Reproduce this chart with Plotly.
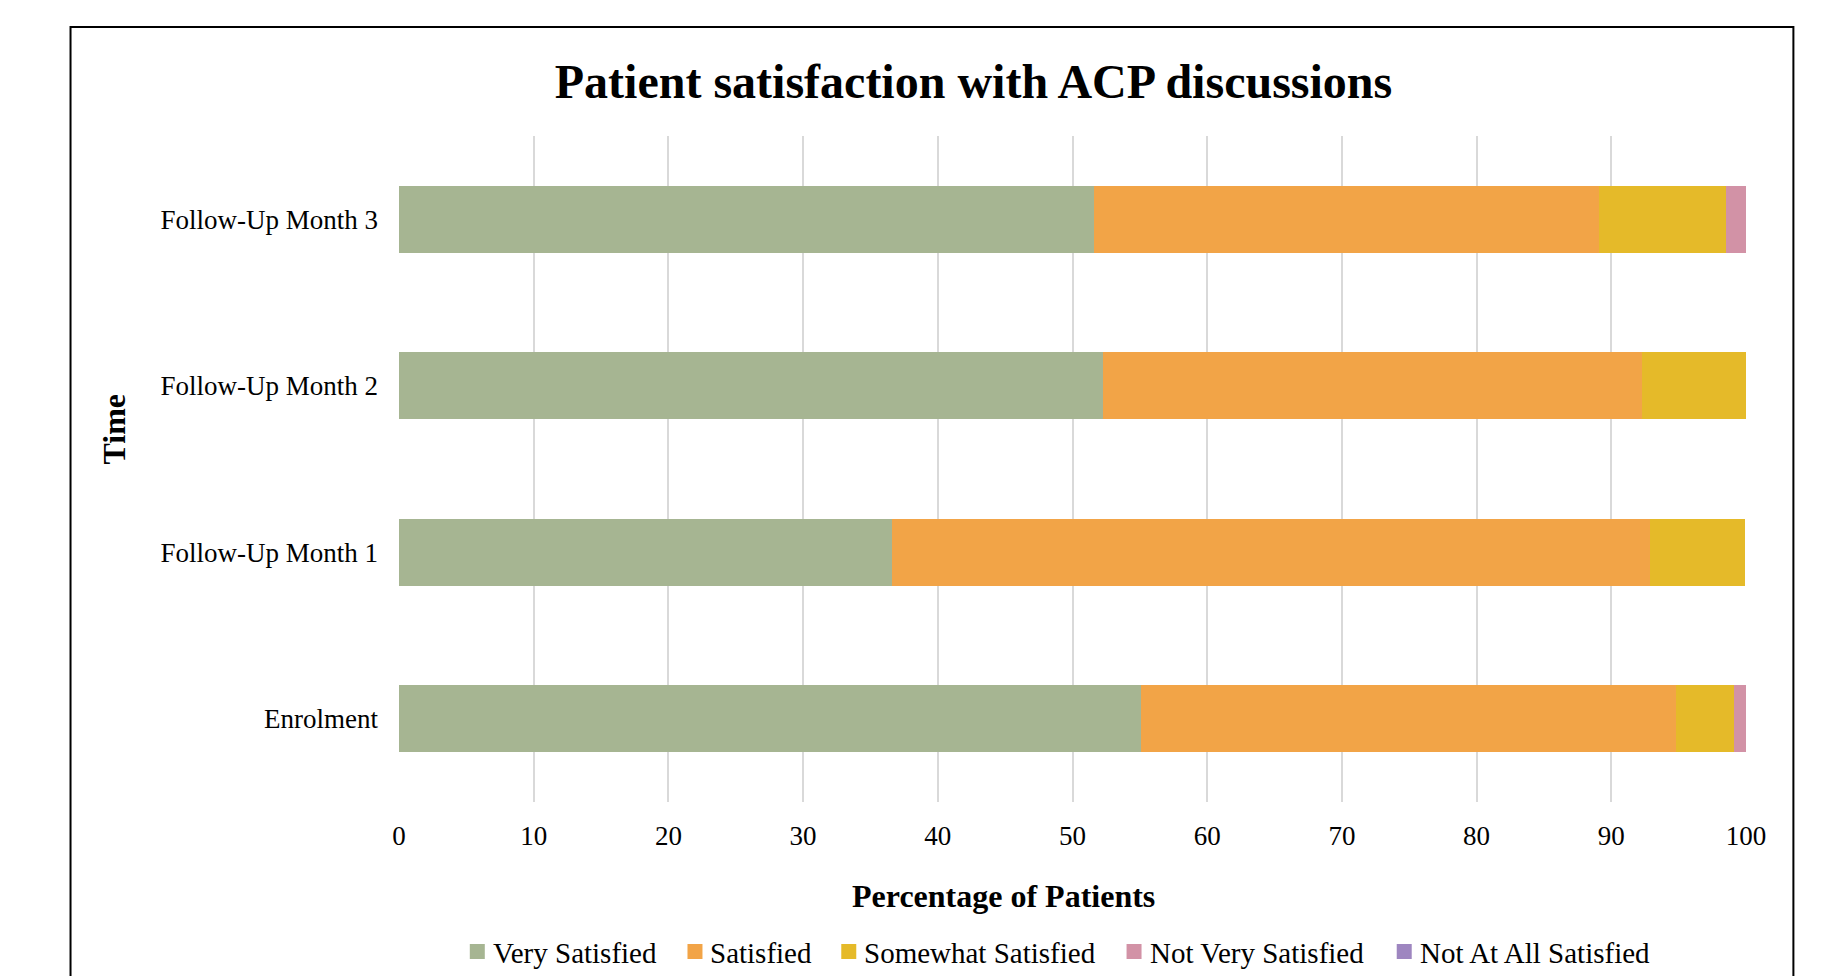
"""Stacked horizontal bars: patient satisfaction with ACP discussions."""

import plotly.graph_objects as go

# categories, bottom to top
time_points = ["Enrolment", "Follow-Up Month 1", "Follow-Up Month 2", "Follow-Up Month 3"]

very_satisfied = [55.1, 36.6, 52.3, 51.6]
satisfied = [39.7, 56.3, 40.0, 37.5]
somewhat_satisfied = [4.3, 7.0, 7.7, 9.4]
not_very_satisfied = [0.9, 0.0, 0.0, 1.5]
not_at_all_satisfied = [0.0, 0.0, 0.0, 0.0]

series_names = ["Very Satisfied", "Satisfied", "Somewhat Satisfied",
                "Not Very Satisfied", "Not At All Satisfied"]
series_values = [very_satisfied, satisfied, somewhat_satisfied,
                 not_very_satisfied, not_at_all_satisfied]
series_colors = ["#A6B592", "#F2A447", "#E5BA29", "#D292A6", "#9E86C0"]

x_ticks = list(range(0, 101, 10))

SERIF = "Liberation Serif, Times New Roman, serif"
PAGE_W, PAGE_H = 1826, 976
OFF = 8  # body margin of the html page
L, R, T, B = 398.5, 1745.6, 136, 802  # plot area, page px

# legend key left edges (page px), key size and row centre
LEGEND_KEY_X = [469.3, 687.0, 840.8, 1126.1, 1396.3]
LEGEND_Y = 951.5
KEY = 15
KEY_TEXT_GAP = 21


def px_x(x):
    return (x - L) / (R - L)


def px_y(y):
    return (B - y) / (B - T)


fig = go.Figure()
for name, vals, col in zip(series_names, series_values, series_colors):
    fig.add_trace(go.Bar(
        y=time_points,
        x=vals,
        name=name,
        orientation="h",
        marker=dict(color=col, line=dict(width=0)),
        showlegend=False,
    ))

fig.update_layout(
    width=PAGE_W - OFF,
    height=PAGE_H - OFF,
    barmode="stack",
    bargap=0.6,
    plot_bgcolor="white",
    paper_bgcolor="white",
    margin=dict(l=L - OFF, r=PAGE_W - R, t=T - OFF, b=PAGE_H - B, autoexpand=False),
    font=dict(family=SERIF, size=27, color="black"),
    title=dict(
        text="Patient satisfaction with ACP discussions",
        font=dict(family=SERIF, size=48, weight="bold", color="black"),
        x=(973.5 - OFF) / (PAGE_W - OFF), xanchor="center", xref="container",
        y=1 - (81.5 - OFF) / (PAGE_H - OFF), yanchor="middle", yref="container",
    ),
    xaxis=dict(
        range=[0, 100],
        tickvals=x_ticks,
        showgrid=True,
        gridcolor="#d9d9d9",
        gridwidth=1.5,
        zeroline=False,
        showline=False,
        ticks="",
        ticklabelstandoff=15,
        tickfont=dict(size=27),
    ),
    yaxis=dict(
        showgrid=False,
        showline=False,
        ticks="",
        ticklabelstandoff=20,
        tickfont=dict(size=27),
    ),
    showlegend=False,
)

# legend drawn as square keys + labels, as in the original
for name, col, kx in zip(series_names, series_colors, LEGEND_KEY_X):
    fig.add_shape(
        type="rect", xref="paper", yref="paper",
        x0=px_x(kx), x1=px_x(kx + KEY),
        y0=px_y(LEGEND_Y + KEY / 2), y1=px_y(LEGEND_Y - KEY / 2),
        line=dict(width=0), fillcolor=col,
    )
    fig.add_annotation(
        text=name, xref="paper", yref="paper",
        x=px_x(kx + KEY_TEXT_GAP), y=px_y(LEGEND_Y + 1),
        xanchor="left", yanchor="middle", showarrow=False,
        font=dict(family=SERIF, size=29),
    )

fig.add_annotation(
    text="Percentage of Patients", xref="paper", yref="paper",
    x=px_x(1002.6), y=px_y(895.5), xanchor="center", yanchor="middle",
    showarrow=False, font=dict(family=SERIF, size=32, weight="bold"),
)
fig.add_annotation(
    text="Time", xref="paper", yref="paper",
    x=px_x(113), y=px_y(429), xanchor="center", yanchor="middle",
    showarrow=False, textangle=-90,
    font=dict(family=SERIF, size=32, weight="bold"),
)

# outer chart border
fig.add_shape(
    type="rect", xref="paper", yref="paper",
    x0=px_x(70), x1=px_x(1793), y0=px_y(1000), y1=px_y(27),
    line=dict(color="black", width=2), fillcolor="rgba(0,0,0,0)",
    layer="below",
)

fig.write_html("out.html")
